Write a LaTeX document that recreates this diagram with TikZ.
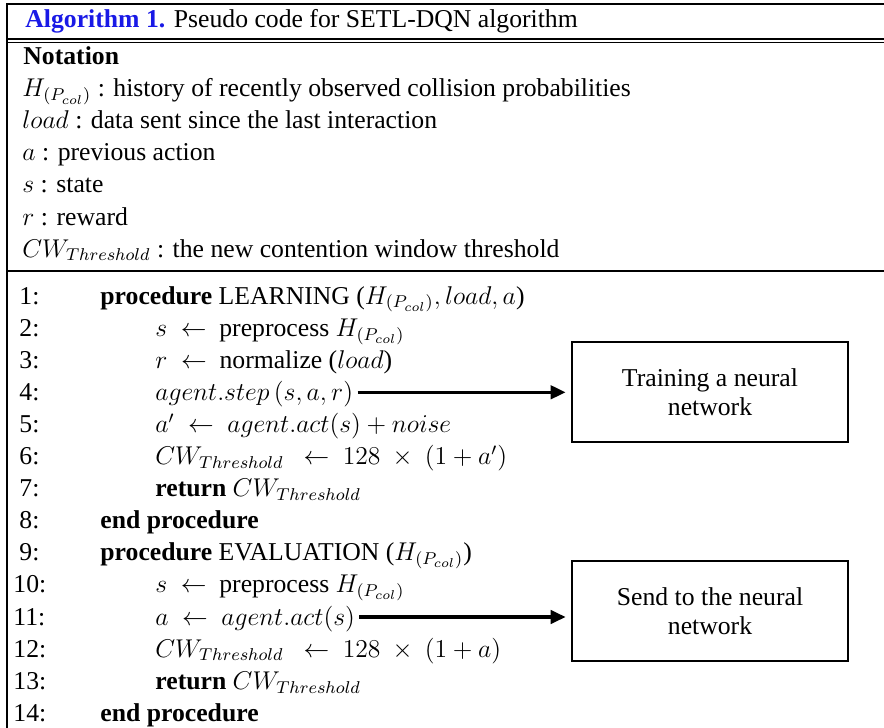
\documentclass[tikz,border=0pt]{standalone}
\usepackage{fontspec}
\setmainfont{Liberation Serif}
\usetikzlibrary{arrows.meta}
\usetikzlibrary{calc}
\usepackage{xcolor}
\definecolor{algblue}{RGB}{25,25,230}

\begin{document}
\begin{tikzpicture}[x=0.467pt,y=-0.467pt,
    row/.style={anchor=base west,inner sep=0pt,font=\fontsize{12}{14}\selectfont},
    rule/.style={line width=0.9pt},
    nnbox/.style={draw,line width=1pt,minimum width=129pt,minimum height=47pt,inner sep=0pt,
      align=center,font=\fontsize{12}{13.6}\selectfont},
    flow/.style={line width=1.6pt,-{Triangle[length=7pt,width=6.2pt]},shorten >=2.4pt}]
      \useasboundingbox (0,0) rectangle (884,728);

      % Frame
      \draw[rule] (884,4) -- (7,4) -- (7,728);
      \draw[rule] (7,39) -- (884,39);
      \draw[rule] (7,42.5) -- (884,42.5);
      \draw[rule] (7,271) -- (884,271);

      % Title
      \node[row] (title) at (25,28) {\textbf{\color{algblue}Algorithm 1.} Pseudo code for SETL-DQN algorithm};

      % Notation
      \node[row] (notation) at (23,65) {\textbf{Notation}};
      \node[row] (hist) at (22,97) {$H_{(P_{col})}$ : history of recently observed collision probabilities};
      \node[row] (load) at (22,129) {$load$ : data sent since the last interaction};
      \node[row] (act) at (22,161) {$a$ : previous action};
      \node[row] (state) at (22,193) {$s$ : state};
      \node[row] (rew) at (22,225) {$r$ : reward};
      \node[row] (cwt) at (22,257) {$CW_{Threshold}$ : the new contention window threshold};

      % Line numbers
      \foreach \i in {1,...,14}
      {
        \pgfmathsetmacro{\yy}{304+(\i-1)*32.1}
        \pgfmathsetmacro{\nx}{\i<10 ? 19 : 13}
        \coordinate (P\i) at (100,\yy);
        \coordinate (B\i) at (155,\yy);
        \node[row] (n\i) at (\nx,\yy) {\i:};
      }

      % Algorithm body
      \node[row] (l1) at (P1) {\textbf{procedure} LEARNING ($H_{(P_{col})}, load, a$)};
      \node[row] (l2) at (B2) {$s\ \leftarrow$\ \ preprocess $H_{(P_{col})}$};
      \node[row] (l3) at (B3) {$r\ \leftarrow$\ \ normalize ($load$)};
      \node[row] (l4) at (B4) {$agent.step\,(s,a,r)$};
      \node[row] (l5) at (B5) {$a'\ \leftarrow\ agent.act(s) + noise$};
      \node[row] (l6) at (B6) {$CW_{Threshold}\ \ \leftarrow\ 128\ \times\ (1 + a')$};
      \node[row] (l7) at (B7) {\textbf{return} $CW_{Threshold}$};
      \node[row] (l8) at (P8) {\textbf{end procedure}};
      \node[row] (l9) at (P9) {\textbf{procedure} EVALUATION ($H_{(P_{col})}$)};
      \node[row] (l10) at (B10) {$s\ \leftarrow$\ \ preprocess $H_{(P_{col})}$};
      \node[row] (l11) at (B11) {$a\ \leftarrow\ agent.act(s)$};
      \node[row] (l12) at (B12) {$CW_{Threshold}\ \ \leftarrow\ 128\ \times\ (1 + a)$};
      \node[row] (l13) at (B13) {\textbf{return} $CW_{Threshold}$};
      \node[row] (l14) at (P14) {\textbf{end procedure}};

      % Neural network boxes
      \node[nnbox] (train) at (710,392) {Training a neural\\network};
      \node[nnbox] (send) at (710,611) {Send to the neural\\network};

      \coordinate (a4) at ($(l4.base east)+(4,-8)$);
      \coordinate (a11) at ($(l11.base east)+(4,-8)$);
      \draw[flow] (a4) -- (a4 -| train.west);
      \draw[flow] (a11) -- (a11 -| send.west);
  \end{tikzpicture}
\end{document}
